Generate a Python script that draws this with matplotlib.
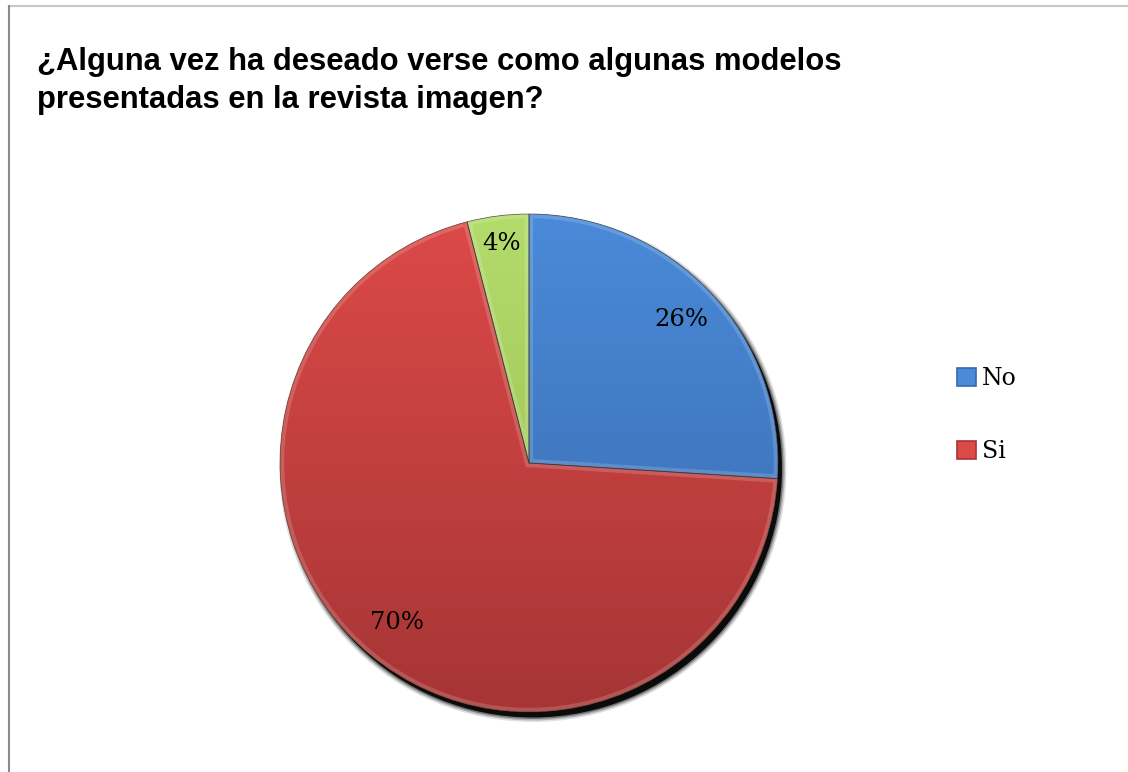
import numpy as np
import matplotlib
matplotlib.use("Agg")
import matplotlib.pyplot as plt
from matplotlib.colors import LinearSegmentedColormap
from matplotlib.patches import Patch, Circle, PathPatch
from matplotlib.lines import Line2D

# Survey answers (percent)
categories = ["No", "Si", ""]
values = [26, 70, 4]
title = "¿Alguna vez ha deseado verse como algunas modelos\npresentadas en la revista imagen?"

# light (top) / dark (bottom) tones of each slice
tones = [("#4a8ad8", "#3868ac"), ("#dc4a48", "#a63535"), ("#b4dc6c", "#92b84c")]
label_dist = [0.84, 0.83, 0.89]

W, H = 1128, 772
fig = plt.figure(figsize=(W / 100, H / 100), dpi=100)
fig.patch.set_facecolor("white")

# chart frame
fig.add_artist(Line2D([9 / W, 1], [1 - 6 / H, 1 - 6 / H], color="#c8c8c8", lw=1.5))
fig.add_artist(Line2D([9 / W, 9 / W], [0, 1 - 6 / H], color="#8a8a8a", lw=1.5))

fig.text(37 / W, 1 - 47 / H, title, fontsize=22.3, fontweight="bold",
         family="Liberation Sans", va="top", ha="left", linespacing=1.33)

cx, cy, R = 529, H - 463, 249
half = 260
ax = fig.add_axes([(cx - half) / W, (cy - half) / H, 2 * half / W, 2 * half / H])
ax.axis("off")

# soft drop shadow toward the lower right
for k, a in enumerate([0.12, 0.2, 0.35, 0.9]):
    grow = (3 - k) * 0.006
    ax.add_patch(Circle((0.016, -0.022), 1.0 + grow, color="black", alpha=a,
                        lw=0, zorder=0))

wedges, _ = ax.pie(values, startangle=90, counterclock=False, radius=1.0,
                   wedgeprops=dict(linewidth=0))

grad = np.linspace(1, 0, 256).reshape(-1, 1)
for w, (top, bottom) in zip(wedges, tones):
    w.set_zorder(1)
    cmap = LinearSegmentedColormap.from_list("g", [bottom, top])
    im = ax.imshow(grad, cmap=cmap, extent=[-1, 1, -1, 1], origin="upper",
                   aspect="auto", zorder=2, vmin=0, vmax=1)
    im.set_clip_path(w)
    # bevel highlight along slice edges
    hl = PathPatch(w.get_path(), transform=w.get_transform(), fill=False,
                   edgecolor="white", alpha=0.16, lw=6, zorder=3)
    ax.add_patch(hl)
    hl.set_clip_path(w)
    ol = PathPatch(w.get_path(), transform=w.get_transform(), fill=False,
                   edgecolor="#2a2a2a", alpha=0.6, lw=0.6, zorder=4)
    ax.add_patch(ol)

# percentage labels
total = sum(values)
start = 90.0
for v, d in zip(values, label_dist):
    mid = np.deg2rad(start - 360 * v / total / 2)
    start -= 360 * v / total
    ax.text(d * np.cos(mid), d * np.sin(mid), f"{v}%", ha="center", va="center",
            fontsize=17.5, family="DejaVu Serif", color="black", zorder=5)

lim = half / R
ax.set_xlim(-lim, lim)
ax.set_ylim(-lim, lim)
ax.set_aspect("equal")

# legend
handles = [Patch(facecolor=tones[i][0], edgecolor=tones[i][1], lw=1.2)
           for i, c in enumerate(categories) if c]
labels = [c for c in categories if c]
fig.legend(handles, labels, loc="center left", bbox_to_anchor=(936 / W, 1 - 415 / H),
           frameon=False, handlelength=0.8, handleheight=0.8, handletextpad=0.25,
           labelspacing=2.1, prop=dict(family="DejaVu Serif", size=17))

fig.savefig("out.png", dpi=100)
